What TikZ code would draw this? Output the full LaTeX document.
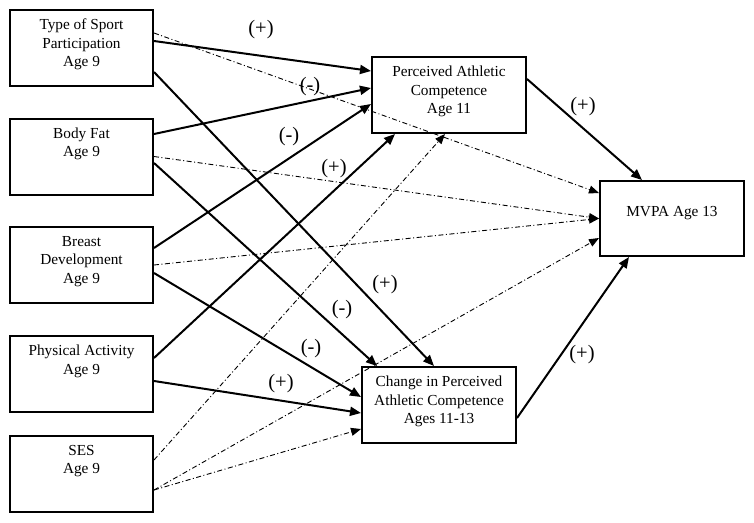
\documentclass[tikz,border=0pt]{standalone}
\usepackage{fontspec}
\setmainfont{Liberation Serif}
\usetikzlibrary{arrows.meta,positioning}

\begin{document}
\begin{tikzpicture}[x=1pt,y=-1pt,
  box/.style={draw,line width=2pt,minimum width=#1,minimum height=76pt,inner sep=0pt},
  txt/.style={align=center,inner sep=0pt,font=\fontsize{15.3}{18.5}\selectfont},
  sign/.style={inner sep=0pt,font=\fontsize{20.5}{22}\selectfont},
  eff/.style={line width=2pt,-{Triangle[length=11pt,width=9pt]}},
  nul/.style={line width=0.9pt,dash pattern=on 5pt off 2.5pt on 1pt off 2.5pt,-{Triangle[length=10pt,width=8pt]}}]
\useasboundingbox (0,0) rectangle (754,522);
\node [box=143pt] (sport) at (81.5,48) {};
\node [box=143pt] (fat) at (81.5,156.5) {};
\node [box=143pt] (breast) at (81.5,265) {};
\node [box=143pt] (pa) at (81.5,374) {};
\node [box=143pt] (ses) at (81.5,474) {};
\node [box=154pt] (pac) at (449,95) {};
\node [box=154pt] (change) at (439,405) {};
\node [box=144pt,minimum height=75pt] (mvpa) at (672,218.5) {};

\node [txt,below=10pt of sport.north] (sport-t) {Type of Sport\\Participation\\Age 9};
\node [txt,below=10pt of fat.north] (fat-t) {Body Fat\\Age 9};
\node [txt,below=10pt of breast.north] (breast-t) {Breast\\Development\\Age 9};
\node [txt,below=10pt of pa.north] (pa-t) {Physical Activity\\Age 9};
\node [txt,below=10pt of ses.north] (ses-t) {SES\\Age 9};
\node [txt,below=10pt of pac.north] (pac-t) {Perceived Athletic\\Competence\\Age 11};
\node [txt,below=10pt of change.north] (change-t) {Change in Perceived\\Athletic Competence\\Ages 11-13};
\node [txt,yshift=5.5pt] (mvpa-t) at (mvpa) {MVPA Age 13};

\draw[eff] ([yshift=7pt]sport.east) -- ([yshift=24pt]pac.west);
\draw[eff] ([yshift=-24pt]sport.east) -- ([xshift=-5pt]change.north);
\draw[eff] ([yshift=22.5pt]fat.east) -- ([yshift=7pt]pac.west);
\draw[eff] ([yshift=-6.5pt]fat.east) -- ([xshift=-62pt]change.north);
\draw[eff] ([yshift=17pt]breast.east) -- ([yshift=-9pt]pac.west);
\draw[eff] ([yshift=-8pt]breast.east) -- ([yshift=8pt]change.west);
\draw[eff] ([yshift=16pt]pa.east) -- ([xshift=-54pt]pac.south);
\draw[eff] ([yshift=-7pt]pa.east) -- ([yshift=-8pt]change.west);
\draw[eff] ([yshift=16pt]pac.east) -- ([xshift=-30pt]mvpa.north);
\draw[eff] ([yshift=-13pt]change.east) -- ([xshift=-43pt]mvpa.south);

\draw[nul] ([yshift=15pt]sport.east) -- ([yshift=25.5pt]mvpa.west);
\draw[nul] (fat.east) -- (mvpa.west);
\draw[nul] (breast.east) -- (mvpa.west);
\draw[nul] ([yshift=14pt]ses.east) -- ([xshift=-4pt]pac.south);
\draw[nul] ([yshift=-16pt]ses.east) -- ([yshift=-19.5pt]mvpa.west);
\draw[nul] ([yshift=-16pt]ses.east) -- ([yshift=-24pt]change.west);

\node [sign] (s1) at (261,30) {(+)};
\node [sign] (s2) at (310,87) {(-)};
\node [sign] (s3) at (289,137) {(-)};
\node [sign] (s4) at (334,169) {(+)};
\node [sign] (s5) at (583,107) {(+)};
\node [sign] (s6) at (385,285) {(+)};
\node [sign] (s7) at (342,310) {(-)};
\node [sign] (s8) at (311,349) {(-)};
\node [sign] (s9) at (281,384) {(+)};
\node [sign] (s10) at (582,355) {(+)};
\end{tikzpicture}
\end{document}
